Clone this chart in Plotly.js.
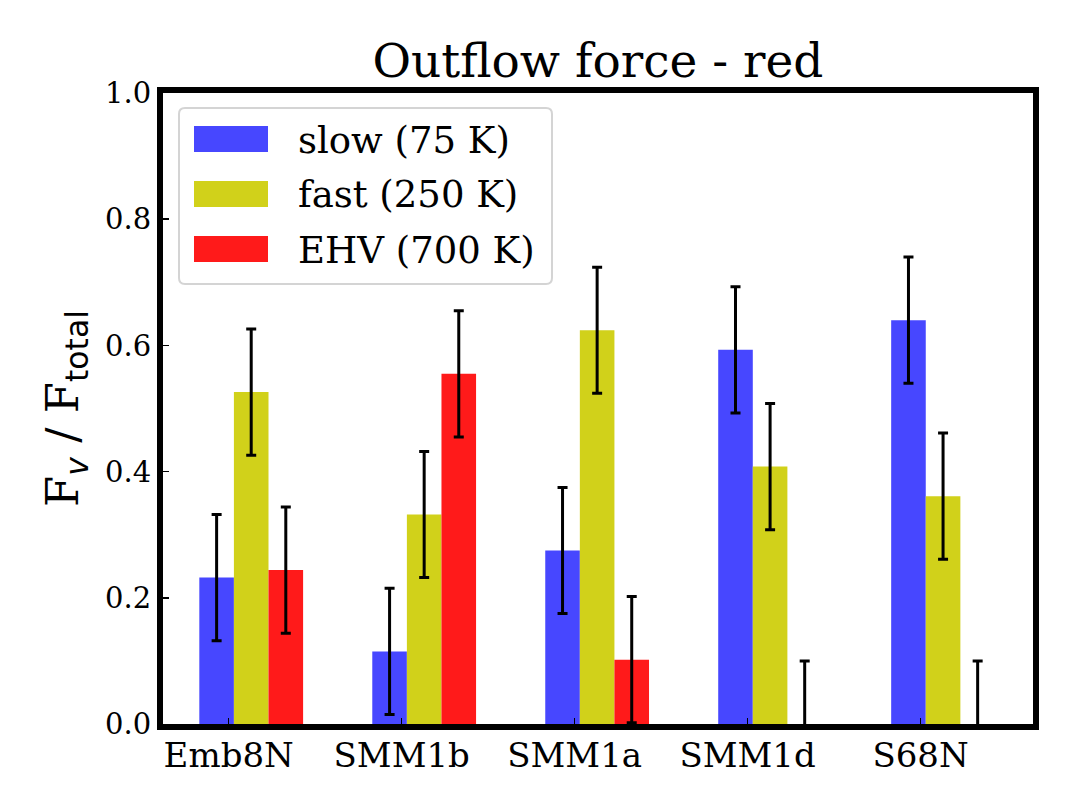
<!DOCTYPE html>
<html>
<head>
<meta charset="utf-8">
<script src="https://cdn.plot.ly/plotly-3.0.1.min.js"></script>
<style>
    html, body { margin: 0; padding: 0; background: white; }
    #chart { width: 1076px; height: 807px; }
</style>
</head>
<body>
<div id="chart"></div>
<script>

// data
const categories = [ 'Emb8N', 'SMM1b', 'SMM1a', 'SMM1d', 'S68N' ];
const slowValues = [ 0.232, 0.115, 0.275, 0.593, 0.640 ];
const fastValues = [ 0.526, 0.332, 0.624, 0.408, 0.361 ];
const ehvValues = [ 0.244, 0.555, 0.102, 0.0, 0.0 ];
const slowErrors = [ 0.1, 0.1, 0.1, 0.1, 0.1 ];
const fastErrors = [ 0.1, 0.1, 0.1, 0.1, 0.1 ];
const ehvErrors = [ 0.1, 0.1, 0.1, 0.1, 0.1 ];
const seriesNames = [ 'slow (75 K)', 'fast (250 K)', 'EHV (700 K)' ];
const yTickValues = [ 0, 0.2, 0.4, 0.6, 0.8, 1.0 ];
const yTickLabels = [ '0.0', '0.2', '0.4', '0.6', '0.8', '1.0' ];

const colors = [ '#4747ff', '#d1d11a', '#ff1a1a' ];
const serif = 'DejaVu Serif, Liberation Serif, serif';

// plot area (inner edges of the frame), px
const W = 1076, H = 807;
const margin = { l: 163, r: 43, t: 93, b: 83 };
const plotW = W - margin.l - margin.r;
const plotH = H - margin.t - margin.b;
const px2x = ( px ) => ( px - margin.l ) / plotW;
const py2y = ( py ) => ( H - margin.b - py ) / plotH;

const barWidth = 0.2;
const offsets = [ -0.07, 0.13, 0.33 ];
const values = [ slowValues, fastValues, ehvValues ];
const errors = [ slowErrors, fastErrors, ehvErrors ];

const data = values.map( ( vals, k ) => ( {
    type: 'bar',
    name: seriesNames[ k ],
    x: categories.map( ( c, i ) => i + offsets[ k ] ),
    y: vals,
    width: barWidth,
    marker: { color: colors[ k ], line: { width: 0 } },
    error_y: {
        type: 'data',
        array: errors[ k ],
        visible: true,
        color: 'black',
        thickness: 3,
        width: 5
    },
    showlegend: false,
    hoverinfo: 'skip'
} ) );

// legend drawn by hand so the patches get matplotlib's size
function roundedBox( x0, y0, x1, y1, r ) {
    // pixel corners -> paper path with rounded corners
    const X = px2x, Y = py2y;
    return 'M' + X( x0 + r ) + ',' + Y( y0 ) +
        ' L' + X( x1 - r ) + ',' + Y( y0 ) +
        ' Q' + X( x1 ) + ',' + Y( y0 ) + ' ' + X( x1 ) + ',' + Y( y0 + r ) +
        ' L' + X( x1 ) + ',' + Y( y1 - r ) +
        ' Q' + X( x1 ) + ',' + Y( y1 ) + ' ' + X( x1 - r ) + ',' + Y( y1 ) +
        ' L' + X( x0 + r ) + ',' + Y( y1 ) +
        ' Q' + X( x0 ) + ',' + Y( y1 ) + ' ' + X( x0 ) + ',' + Y( y1 - r ) +
        ' L' + X( x0 ) + ',' + Y( y0 + r ) +
        ' Q' + X( x0 ) + ',' + Y( y0 ) + ' ' + X( x0 + r ) + ',' + Y( y0 ) + ' Z';
}

const shapes = [ {
    type: 'path', xref: 'paper', yref: 'paper',
    path: roundedBox( 179, 108, 552, 284, 6 ),
    line: { color: '#d4d4d4', width: 2 },
    fillcolor: 'rgba(255,255,255,0.8)',
    layer: 'above'
} ];
const annotations = [];
const rowCenters = [ 139, 194, 249 ];
seriesNames.forEach( ( name, k ) => {
    shapes.push( {
        type: 'rect', xref: 'paper', yref: 'paper',
        x0: px2x( 194 ), x1: px2x( 268 ),
        y0: py2y( rowCenters[ k ] + 13 ), y1: py2y( rowCenters[ k ] - 13 ),
        line: { width: 0 },
        fillcolor: colors[ k ],
        layer: 'above'
    } );
    annotations.push( {
        xref: 'paper', yref: 'paper',
        x: px2x( 296 ), y: py2y( rowCenters[ k ] + 1 ),
        xanchor: 'left', yanchor: 'middle',
        text: name,
        showarrow: false,
        font: { family: serif, size: 37, color: 'black' }
    } );
} );

const layout = {
    width: W,
    height: H,
    margin: margin,
    paper_bgcolor: 'white',
    plot_bgcolor: 'white',
    barmode: 'overlay',
    showlegend: false,
    title: {
        text: 'Outflow force - red',
        font: { family: serif, size: 47, color: 'black' },
        x: ( margin.l + plotW / 2 ) / W,
        xanchor: 'center',
        y: 1 - 61 / H,
        yanchor: 'middle'
    },
    xaxis: {
        range: [ -0.38, 4.65 ],
        tickmode: 'array',
        tickvals: categories.map( ( c, i ) => i ),
        ticktext: categories,
        ticks: 'inside',
        ticklen: 6,
        tickwidth: 1.5,
        tickcolor: 'black',
        tickfont: { family: serif, size: 34, color: 'black' },
        ticklabelstandoff: -4,
        showline: true,
        linewidth: 6,
        linecolor: 'black',
        mirror: true,
        showgrid: false,
        zeroline: false,
        fixedrange: true
    },
    yaxis: {
        range: [ 0, 1 ],
        tickmode: 'array',
        tickvals: yTickValues,
        ticktext: yTickLabels,
        ticks: 'inside',
        ticklen: 6,
        tickwidth: 1.5,
        tickcolor: 'black',
        tickfont: { family: serif, size: 29, color: 'black' },
        showline: true,
        linewidth: 6,
        linecolor: 'black',
        mirror: true,
        showgrid: false,
        zeroline: false,
        fixedrange: true,
        title: {
            text: 'F<span style="font-family:DejaVu Sans"><sub><i>v</i></sub></span> / F<span style="font-family:DejaVu Sans"><sub>total</sub></span>',
            font: { family: serif, size: 45, color: 'black' },
            standoff: 14
        }
    },
    shapes: shapes,
    annotations: annotations
};

Plotly.newPlot( 'chart', data, layout, { displayModeBar: false, staticPlot: true } );

</script>
</body>
</html>
